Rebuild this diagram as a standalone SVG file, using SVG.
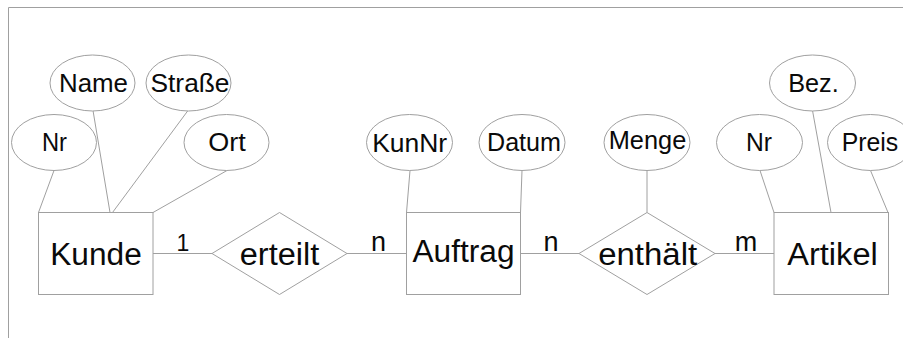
<svg xmlns="http://www.w3.org/2000/svg" width="903" height="338" viewBox="0 0 903 338">
  <style>
    .frame { fill: none; stroke: #a0a0a0; stroke-width: 1; }
    .shape { fill: #ffffff; stroke: #a0a0a0; stroke-width: 1; }
    .link { fill: none; stroke: #a0a0a0; stroke-width: 1; }
    text { font-family: "Liberation Sans", Arial, sans-serif; fill: #0a0a0a; text-anchor: middle; }
    .big { font-size: 31px; }
    .attr { font-size: 25px; }
    .card { font-size: 27px; }
  </style>
  <rect width="903" height="338" fill="#ffffff"/>

  <!-- page frame edges -->
  <path class="frame" d="M8.5 338 V7.5 H903"/>

  <!-- connectors -->
  <g id="connectors">
    <!-- Kunde attributes -->
    <line class="link" x1="54" y1="170.5" x2="38.5" y2="212.5"/>
    <line class="link" x1="93" y1="110.5" x2="110" y2="212.5"/>
    <line class="link" x1="188" y1="110.5" x2="112.5" y2="212.5"/>
    <line class="link" x1="227" y1="170.5" x2="153" y2="212.5"/>
    <!-- Auftrag attributes -->
    <line class="link" x1="410" y1="170.5" x2="406.5" y2="212.5"/>
    <line class="link" x1="522" y1="170.5" x2="520.5" y2="212.5"/>
    <!-- Menge -->
    <line class="link" x1="647" y1="170.5" x2="647" y2="212.5"/>
    <!-- Artikel attributes -->
    <line class="link" x1="760" y1="170.5" x2="774" y2="212.5"/>
    <line class="link" x1="812.5" y1="110.5" x2="831" y2="212.5"/>
    <line class="link" x1="870.5" y1="170.5" x2="888" y2="212.5"/>
    <!-- relationships -->
    <line class="link" x1="153" y1="253.5" x2="212" y2="253.5"/>
    <line class="link" x1="347" y1="253.5" x2="406.5" y2="253.5"/>
    <line class="link" x1="520.5" y1="253.5" x2="579" y2="253.5"/>
    <line class="link" x1="715" y1="253.5" x2="774" y2="253.5"/>
    <!-- cardinalities -->
    <text class="card" x="183" y="251" style="font-size:23px">1</text>
    <text class="card" x="378.5" y="251">n</text>
    <text class="card" x="551" y="251">n</text>
    <text class="card" x="746" y="251">m</text>
  </g>

  <!-- entity: Kunde -->
  <g id="kunde">
    <rect class="shape" x="38.5" y="212.5" width="114.5" height="82"/>
    <text class="big" x="96" y="265" textLength="91.5" lengthAdjust="spacingAndGlyphs">Kunde</text>
  </g>
  <g id="kunde-nr">
    <ellipse class="shape" cx="54" cy="142.5" rx="42.5" ry="28"/>
    <text class="attr" x="54.5" y="150.5" textLength="25" lengthAdjust="spacingAndGlyphs">Nr</text>
  </g>
  <g id="kunde-name">
    <ellipse class="shape" cx="92.5" cy="83" rx="42.5" ry="28"/>
    <text class="attr" x="93.5" y="91.5" textLength="69" lengthAdjust="spacingAndGlyphs">Name</text>
  </g>
  <g id="kunde-strasse">
    <ellipse class="shape" cx="188.5" cy="83" rx="42.5" ry="28"/>
    <text class="attr" x="190" y="91.5" textLength="79" lengthAdjust="spacingAndGlyphs">Straße</text>
  </g>
  <g id="kunde-ort">
    <ellipse class="shape" cx="226.5" cy="142.5" rx="42.5" ry="28"/>
    <text class="attr" x="227" y="150.5" textLength="37.5" lengthAdjust="spacingAndGlyphs">Ort</text>
  </g>

  <!-- relationship: erteilt -->
  <g id="erteilt">
    <polygon class="shape" points="212,253.5 279.5,212.5 347,253.5 279.5,294.5"/>
    <text class="big" x="279.5" y="265" textLength="79.5" lengthAdjust="spacingAndGlyphs">erteilt</text>
  </g>

  <!-- entity: Auftrag -->
  <g id="auftrag">
    <rect class="shape" x="406.5" y="212.5" width="114" height="82"/>
    <text class="big" x="463.5" y="262" textLength="102" lengthAdjust="spacingAndGlyphs">Auftrag</text>
  </g>
  <g id="auftrag-kunnr">
    <ellipse class="shape" cx="409.5" cy="142.5" rx="43" ry="28"/>
    <text class="attr" x="409.7" y="151.5" textLength="75" lengthAdjust="spacingAndGlyphs">KunNr</text>
  </g>
  <g id="auftrag-datum">
    <ellipse class="shape" cx="522" cy="142.5" rx="43" ry="28"/>
    <text class="attr" x="524" y="151" textLength="74" lengthAdjust="spacingAndGlyphs">Datum</text>
  </g>

  <!-- relationship: enthält -->
  <g id="enthaelt">
    <polygon class="shape" points="579,253.5 647,212.5 715,253.5 647,294.5"/>
    <text class="big" x="647.7" y="264.5" textLength="99" lengthAdjust="spacingAndGlyphs">enthält</text>
  </g>
  <g id="enthaelt-menge">
    <ellipse class="shape" cx="647" cy="142.5" rx="43" ry="28"/>
    <text class="attr" x="647.5" y="149" textLength="77.5" lengthAdjust="spacingAndGlyphs">Menge</text>
  </g>

  <!-- entity: Artikel -->
  <g id="artikel">
    <rect class="shape" x="774" y="212.5" width="114.5" height="82"/>
    <text class="big" x="832.5" y="264.5" textLength="90.5" lengthAdjust="spacingAndGlyphs">Artikel</text>
  </g>
  <g id="artikel-nr">
    <ellipse class="shape" cx="759.5" cy="142.5" rx="43" ry="28"/>
    <text class="attr" x="759" y="150.5" textLength="26" lengthAdjust="spacingAndGlyphs">Nr</text>
  </g>
  <g id="artikel-bez">
    <ellipse class="shape" cx="812.5" cy="83" rx="43" ry="28"/>
    <text class="attr" x="813.5" y="91.5" textLength="50.5" lengthAdjust="spacingAndGlyphs">Bez.</text>
  </g>
  <g id="artikel-preis">
    <ellipse class="shape" cx="870.5" cy="142.5" rx="43" ry="28"/>
    <text class="attr" x="870" y="150.5" textLength="56.5" lengthAdjust="spacingAndGlyphs">Preis</text>
  </g>
</svg>
